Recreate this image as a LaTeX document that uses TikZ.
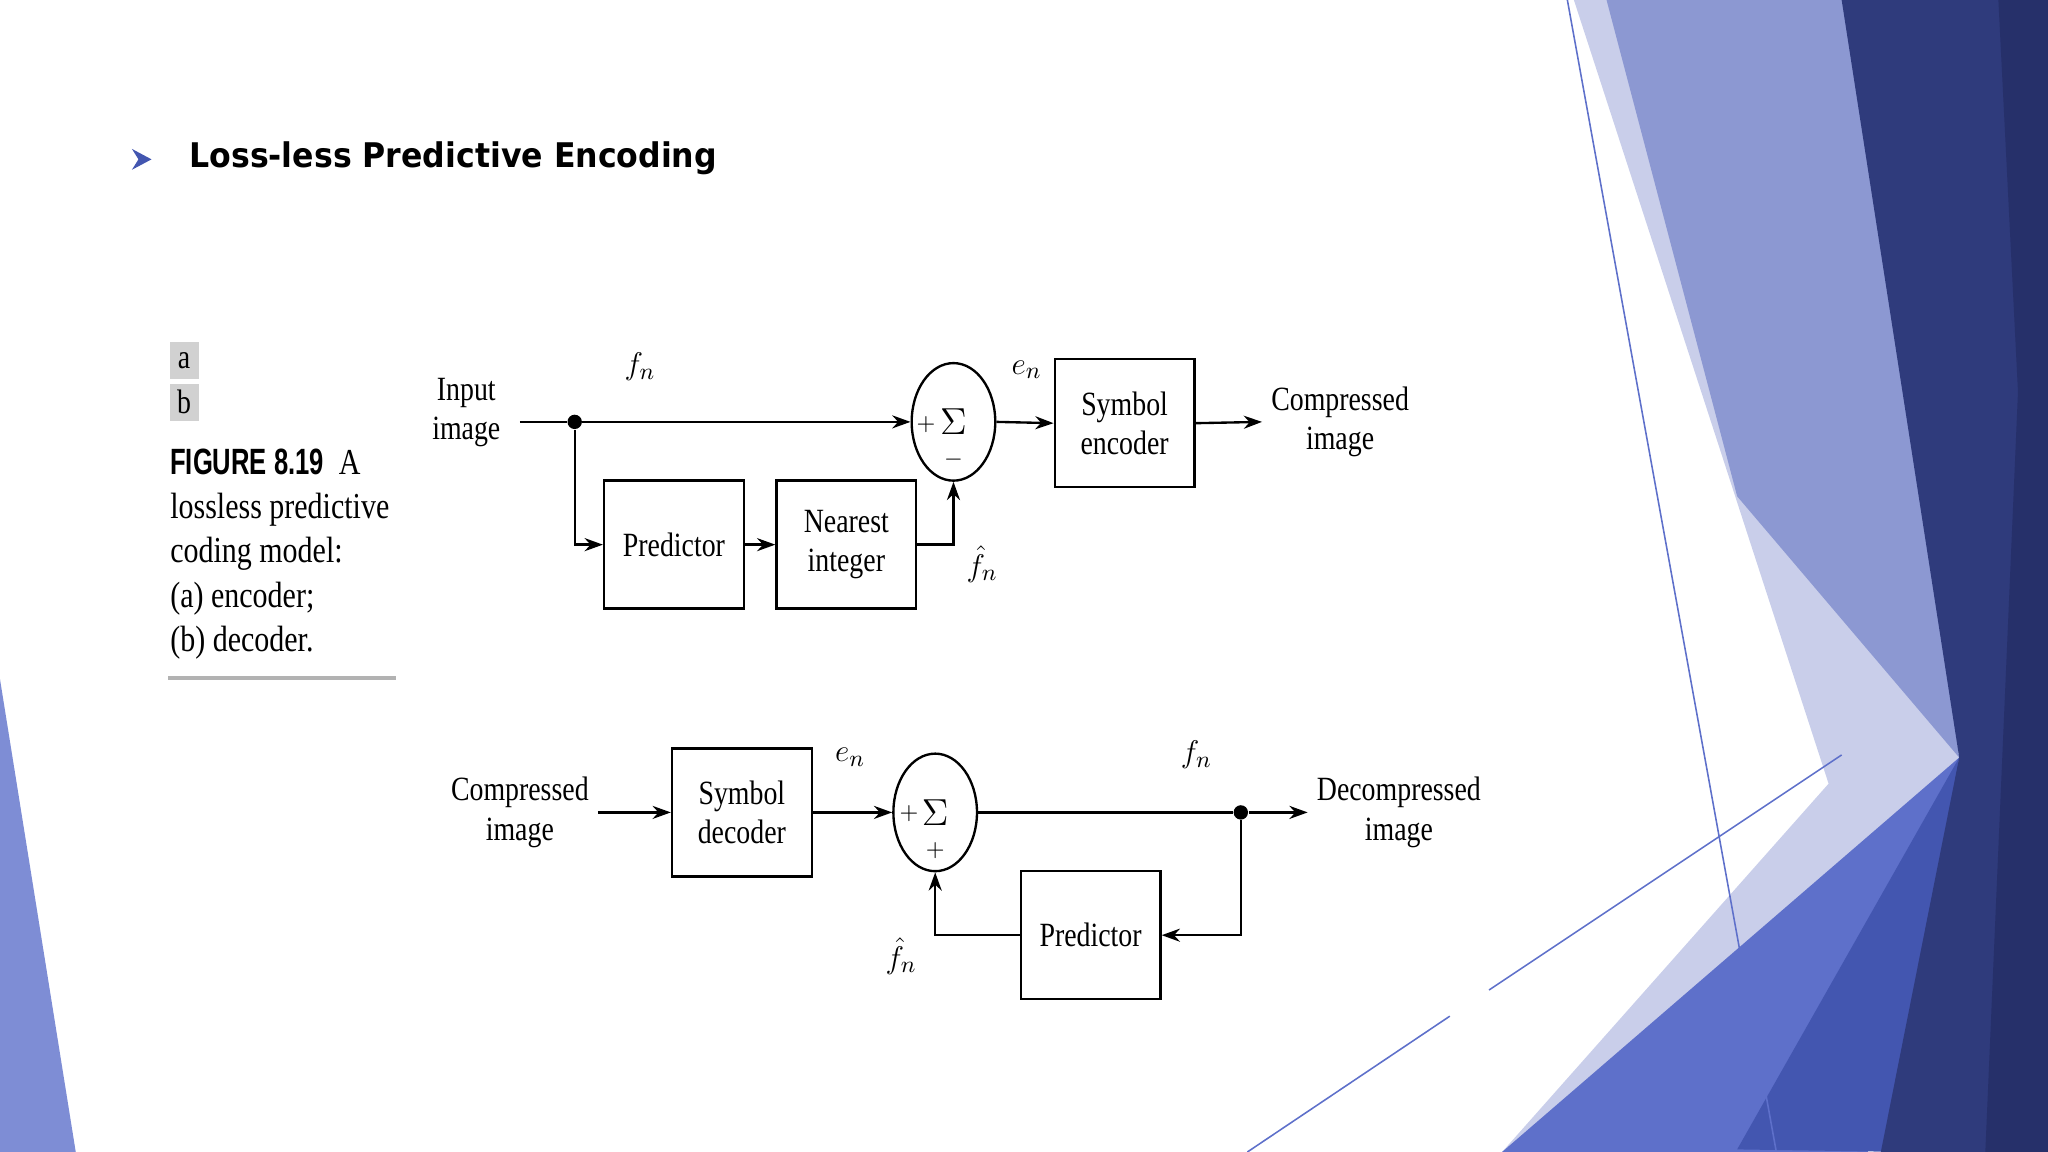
\documentclass[tikz,border=0pt]{standalone}
\usepackage{fontspec}
\setmainfont{Liberation Serif}[FakeStretch=0.82]
\newfontfamily\titlef{DejaVu Sans}[FakeStretch=0.93]
\newfontfamily\capf{Liberation Sans}[FakeStretch=0.7]
\usetikzlibrary{arrows.meta,shapes.geometric}
\definecolor{pale}{HTML}{C9CEEA}
\definecolor{midb}{HTML}{8C98D2}
\definecolor{navy}{HTML}{2F3B7C}
\definecolor{dnavy}{HTML}{26306A}
\definecolor{blu}{HTML}{5E70CA}
\definecolor{blu2}{HTML}{4356B0}
\begin{document}
\begin{tikzpicture}[x=0.5pt,y=-0.5pt,
  box/.style={draw,line width=0.9pt,minimum width=53.5pt,minimum height=49pt,inner sep=0pt,align=center,font=\fontsize{13}{15}\selectfont},
  sum/.style={draw,line width=0.9pt,ellipse,minimum width=32pt,minimum height=45pt,inner sep=0pt},
  lbl/.style={align=center,font=\fontsize{13}{15}\selectfont},
  ar/.style={line width=0.9pt,-{Stealth[length=7pt,width=5pt]}},
  ln/.style={line width=0.9pt},
  dot/.style={circle,fill,inner sep=0pt,minimum size=5.5pt}]
\useasboundingbox (0,0) rectangle (1568,882);
% background
\fill[pale] (1205,0)--(1420,0)--(1500,580)--(1430,882)--(1150,882)--(1400,600)--cycle;
\fill[midb] (1230,0)--(1420,0)--(1500,580)--(1330,380)--cycle;
\fill[blu] (1150,882)--(1500,580)--(1430,882)--cycle;
\fill[blu2] (1330,880)--(1500,580)--(1460,882)--cycle;
\fill[navy] (1410,0)--(1568,0)--(1568,882)--(1440,882)--(1500,580)--cycle;
\fill[dnavy] (1530,0)--(1568,0)--(1568,882)--(1520,882)--(1545,300)--cycle;
\fill[blu!80!white] (0,520)--(0,882)--(58,882)--cycle;
\draw[blu,line width=0.6pt] (1200,0)--(1360,882);
\draw[blu,line width=0.6pt] (955,882)--(1110,778);
\draw[blu,line width=0.6pt] (1140,758)--(1410,578);
% title bullet
\fill[blu2] (101,114)--(116,122)--(101,130)--(106,122)--cycle;
\node[font=\titlef\bfseries\fontsize{13}{15}\selectfont,anchor=west] (title) at (138,121) {Loss-less Predictive Encoding};
% caption
\fill[black!18] (130,262) rectangle (152,290);
\fill[black!18] (130,294) rectangle (152,322);
\node[lbl] (ca) at (141,276) {a};
\node[lbl] (cb) at (141,308) {b};
\node[anchor=north west,align=left,inner sep=0pt,font=\fontsize{14}{17}\selectfont] (cap) at (130,343)
 {{\capf\bfseries FIGURE 8.19}\ \ A\\lossless predictive\\coding model:\\(a) encoder;\\(b) decoder.};
\draw[black!30,line width=1.5pt] (129,519)--(303,519);
% encoder
\node[lbl] (in) at (357,316) {Input\\image};
\coordinate (s0) at (398,323);
\node[dot] (d1) at (440,323) {};
\node[sum] (s1) at (730,323) {};
\node at (730,323) {\Large$\Sigma$};
\node[font=\small] at (709,325) {$+$};
\node[font=\small] at (730,352) {$-$};
\node[box] (pr1) at (516,417) {Predictor};
\node[box] (ni) at (648,417) {Nearest\\integer};
\node[box] (se) at (861,324) {Symbol\\encoder};
\node[lbl] (ci) at (1026,323) {Compressed\\image};
\node[lbl] at (490,281) {$f_n$};
\node[lbl] at (786,283) {$e_n$};
\node[lbl,inner sep=0pt] at (752,432) {$\hat f_n$};
\draw[ln] (s0)--(d1);
\draw[ar] (d1)--(s1.west);
\draw[ar] (d1)|-(pr1.west);
\draw[ar] (pr1)--(ni);
\draw[ar] (ni.east)-|(s1.south);
\draw[ar] (s1.east)--(se.west);
\draw[ar] (se.east)--(ci.west);
% decoder
\node[lbl] (cin) at (398,622) {Compressed\\image};
\node[box] (sd) at (568,622) {Symbol\\decoder};
\node[sum] (s2) at (716,622) {};
\node at (716,622) {\Large$\Sigma$};
\node[font=\small] at (696,623) {$+$};
\node[font=\small] at (716,651) {$+$};
\node[dot] (d2) at (950,622) {};
\node[lbl] (dout) at (1071,622) {Decompressed\\image};
\node[box] (pr2) at (835,716) {Predictor};
\node[lbl] at (651,580) {$e_n$};
\node[lbl] at (916,578) {$f_n$};
\node[lbl,inner sep=0pt] at (690,732) {$\hat f_n$};
\draw[ar] (cin.east)--(sd.west);
\draw[ar] (sd.east)--(s2.west);
\draw[ln] (s2.east)--(d2);
\draw[ar] (d2)--(dout.west);
\draw[ar] (d2)|-(pr2.east);
\draw[ar] (pr2.west)-|(s2.south);
\end{tikzpicture}
\end{document}
